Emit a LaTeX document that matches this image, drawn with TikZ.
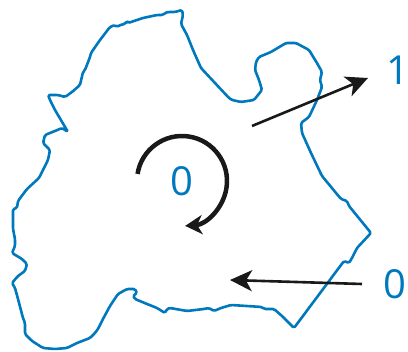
\documentclass[tikz,border=0pt]{standalone}
\usepackage{fontspec}
\setmainfont{Open Sans}
\usepackage{tikz}
\usetikzlibrary{positioning, arrows.meta}
\definecolor{mapblue}{RGB}{0,120,190}

\begin{document}
\begin{tikzpicture}[
  x=1pt, y=-1pt,
  outline/.style={draw=mapblue, line width=2.6pt, line join=round, rounded corners=1.5pt},
  digit/.style={text=mapblue, inner sep=0pt, font=\fontsize{40}{40}\selectfont},
  pointer/.style={draw=black!90, line width=2.6pt, -{Stealth[length=22pt, width=21pt, inset=6pt]}},
  spin/.style={draw=black!90, line width=4.5pt, -{Stealth[length=17pt, width=19pt, inset=5pt]}}]

\useasboundingbox (0,0) rectangle (408,352);

\draw[outline] (39,178) -- (48,160) -- (50,150) -- (43,143) -- (45,135) -- (50,133)
  -- (55,131) -- (62,128) -- (68,132) -- (55,110) -- (50,100) -- (48,95) -- (58,95)
  -- (65,97) -- (72,92) -- (80,85) -- (83,72) -- (85,70) -- (90,57) -- (91,53)
  -- (100,40) -- (110,27) -- (115,25) -- (117,27) -- (120,25) -- (125,24) -- (127,21)
  -- (128,23) -- (143,18) -- (157,15) -- (163,15) -- (165,13) -- (168,12) -- (175,12)
  -- (182,10) -- (183,15) -- (181,24) -- (187,35) -- (193,50) -- (201,68) -- (229,98)
  -- (232,100) -- (241,102) -- (254,100) -- (262,90) -- (259,80) -- (255,70) -- (256,62)
  -- (259,57) -- (271,52) -- (286,43) -- (296,43) -- (309,50) -- (317,63) -- (322,72)
  -- (320,80) -- (322,87) -- (317,100) -- (309,117) -- (301,123) -- (302,133) -- (311,153)
  -- (322,176) -- (341,199) -- (347,201) -- (349,206) -- (371,233) -- (357,248) -- (352,258)
  -- (349,263) -- (344,261) -- (294,328) -- (282,316) -- (274,309) -- (264,309) -- (262,307)
  -- (231,305) -- (221,308) -- (214,311) -- (209,308) -- (204,309) -- (187,311) -- (170,308)
  -- (167,309) -- (165,313) -- (157,308) -- (147,304) -- (135,299) -- (133,296) -- (137,293)
  -- (135,289) -- (127,289) -- (118,294) -- (110,306) -- (103,319) -- (98,329) -- (95,333)
  -- (90,338) -- (77,343) -- (67,348) -- (55,349) -- (43,348) -- (32,341) -- (25,334)
  -- (25,323) -- (23,318) -- (18,299) -- (15,288) -- (12,283) -- (18,276) -- (25,271)
  -- (27,264) -- (22,259) -- (12,253) -- (15,246) -- (15,239) -- (13,229) -- (13,209)
  -- (17,208) -- (18,201) -- (27,189) -- cycle;

\node[digit] (inner) at (182,181) {0};
\node[digit] (outer) at (398,70) {1};
\node[digit] (hole) at (395,284) {0};

\coordinate (outtail) at (252,126);
\coordinate (outtip) at (368,78);
\coordinate (holetail) at (362,284);
\coordinate (holetip) at (230,280);

\draw[pointer] (outtail) -- (outtip);
\draw[pointer] (holetail) -- (holetip);
\draw[spin] (inner.center) ++(-171:45) arc[start angle=-171, end angle=86, radius=45];
\end{tikzpicture}
\end{document}
